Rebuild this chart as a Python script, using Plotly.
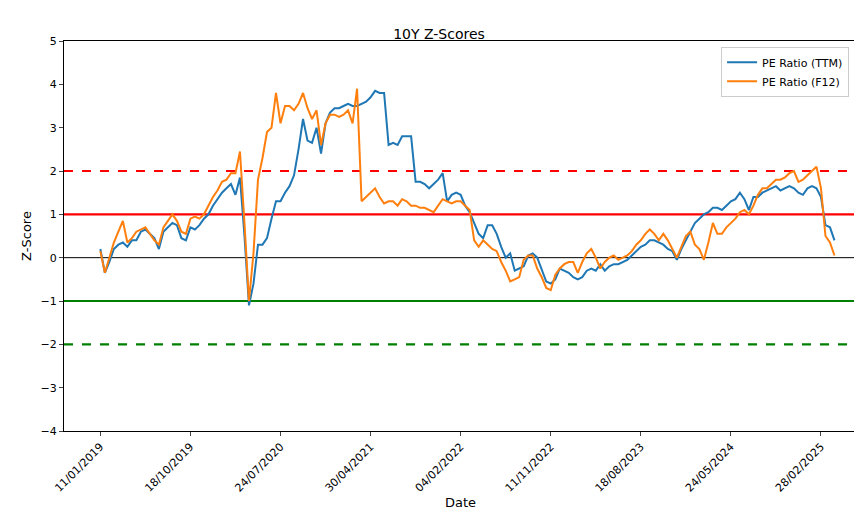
import pandas as pd
import plotly.graph_objects as go

# fortnightly observations starting 11/01/2019
start_date = '2019-01-11'
pe_ttm = [0.2, -0.35, -0.1, 0.2, 0.3, 0.35, 0.25, 0.4, 0.4, 0.6, 0.65, 0.55, 0.45, 0.2, 0.6, 0.7, 0.8, 0.75, 0.45, 0.4,
          0.7, 0.65, 0.75, 0.9, 1.0, 1.2, 1.35, 1.5, 1.6, 1.7, 1.45, 1.85, 0.5, -1.1, -0.6, 0.3, 0.3, 0.45, 0.9, 1.3,
          1.3, 1.5, 1.65, 1.9, 2.5, 3.2, 2.7, 2.65, 3.0, 2.4, 3.1, 3.35, 3.45, 3.45, 3.5, 3.55, 3.5, 3.5, 3.55, 3.6,
          3.7, 3.85, 3.8, 3.8, 2.6, 2.65, 2.6, 2.8, 2.8, 2.8, 1.75, 1.75, 1.7, 1.6, 1.7, 1.8, 1.95, 1.3, 1.45, 1.5,
          1.45, 1.2, 1.05, 0.8, 0.55, 0.45, 0.75, 0.75, 0.55, 0.25, 0.0, 0.1, -0.3, -0.25, -0.2, 0.05, 0.1, 0.0, -0.3, -0.55,
          -0.6, -0.5, -0.25, -0.3, -0.35, -0.45, -0.5, -0.45, -0.3, -0.25, -0.3, -0.15, -0.3, -0.2, -0.15, -0.15, -0.1, -0.05, 0.05, 0.15,
          0.25, 0.3, 0.4, 0.4, 0.35, 0.3, 0.2, 0.15, -0.05, 0.2, 0.4, 0.6, 0.8, 0.9, 1.0, 1.05, 1.15, 1.15, 1.1, 1.2,
          1.3, 1.35, 1.5, 1.35, 1.1, 1.4, 1.4, 1.5, 1.55, 1.6, 1.65, 1.55, 1.6, 1.65, 1.6, 1.5, 1.45, 1.6, 1.65, 1.6,
          1.4, 0.75, 0.7, 0.4]
pe_f12 = [0.15, -0.35, 0.0, 0.35, 0.6, 0.85, 0.35, 0.45, 0.6, 0.65, 0.7, 0.55, 0.4, 0.3, 0.7, 0.85, 1.0, 0.85, 0.6, 0.55,
          0.9, 0.95, 0.9, 1.0, 1.2, 1.4, 1.55, 1.75, 1.8, 1.95, 1.95, 2.45, 0.8, -1.0, 0.1, 1.8, 2.3, 2.9, 3.0, 3.8,
          3.1, 3.5, 3.5, 3.4, 3.55, 3.8, 3.45, 3.2, 3.4, 2.6, 3.1, 3.3, 3.3, 3.25, 3.3, 3.4, 3.1, 3.9, 1.3, 1.4,
          1.5, 1.6, 1.4, 1.25, 1.3, 1.3, 1.2, 1.35, 1.3, 1.2, 1.2, 1.15, 1.15, 1.1, 1.05, 1.2, 1.35, 1.3, 1.25, 1.3,
          1.3, 1.2, 1.1, 0.4, 0.25, 0.4, 0.3, 0.2, 0.15, -0.1, -0.3, -0.55, -0.5, -0.45, -0.05, 0.05, 0.05, -0.25, -0.45, -0.7,
          -0.75, -0.4, -0.25, -0.15, -0.1, -0.1, -0.35, -0.1, 0.1, 0.2, 0.0, -0.25, -0.1, 0.0, 0.05, -0.05, 0.0, 0.05, 0.15, 0.3,
          0.4, 0.55, 0.65, 0.55, 0.4, 0.55, 0.4, 0.2, 0.0, 0.25, 0.5, 0.6, 0.3, 0.2, -0.05, 0.35, 0.8, 0.55, 0.55, 0.7,
          0.8, 0.9, 1.05, 1.1, 1.0, 1.2, 1.45, 1.6, 1.6, 1.7, 1.8, 1.8, 1.85, 1.95, 2.0, 1.75, 1.8, 1.9, 2.0, 2.1,
          1.6, 0.5, 0.35, 0.05]
tick_dates = ['2019-01-11', '2019-10-18', '2020-07-24', '2021-04-30', '2022-02-04',
              '2022-11-11', '2023-08-18', '2024-05-24', '2025-02-28']

dates = pd.date_range(start_date, periods=len(pe_ttm), freq='14D')

fig = go.Figure()
fig.add_trace(go.Scatter(x=dates, y=pe_ttm, mode='lines', name='PE Ratio (TTM)',
                         line=dict(color='#1f77b4', width=2)))
fig.add_trace(go.Scatter(x=dates, y=pe_f12, mode='lines', name='PE Ratio (F12)',
                         line=dict(color='#ff7f0e', width=2)))

# reference lines
for yv, col, dash, w in [(2, 'red', 'dash', 2.2), (1, 'red', 'solid', 2.2), (0, 'black', 'solid', 1),
                         (-1, 'green', 'solid', 2.2), (-2, 'green', 'dash', 2.2)]:
    fig.add_hline(y=yv, line=dict(color=col, dash=dash, width=w), layer='below')

fig.update_layout(
    width=862, height=518,
    title=dict(text='10Y Z-Scores', x=0.5, xanchor='center', y=0.96, font=dict(size=14, color='black')),
    font=dict(family='DejaVu Sans', size=11, color='black'),
    plot_bgcolor='white', paper_bgcolor='white',
    margin=dict(l=56, r=13, t=33, b=95),
    legend=dict(x=0.99, y=0.985, xanchor='right', yanchor='top', bordercolor='#cccccc', borderwidth=1,
                bgcolor='rgba(255,255,255,0.8)', font=dict(size=11)),
)
fig.update_xaxes(
    title=dict(text='Date', standoff=4), range=['2018-09-20', '2025-06-20'], automargin=False,
    tickvals=tick_dates, tickformat='%d/%m/%Y', tickangle=-45,
    showgrid=False, showline=True, linecolor='black', mirror=True, ticks='outside', ticklen=4,
)
fig.update_yaxes(
    title=dict(text='Z-Score', standoff=6), range=[-4, 5], dtick=1, automargin=False,
    showgrid=False, zeroline=False, showline=True, linecolor='black', mirror=True, ticks='outside', ticklen=4,
)

fig.write_html('out.html')
